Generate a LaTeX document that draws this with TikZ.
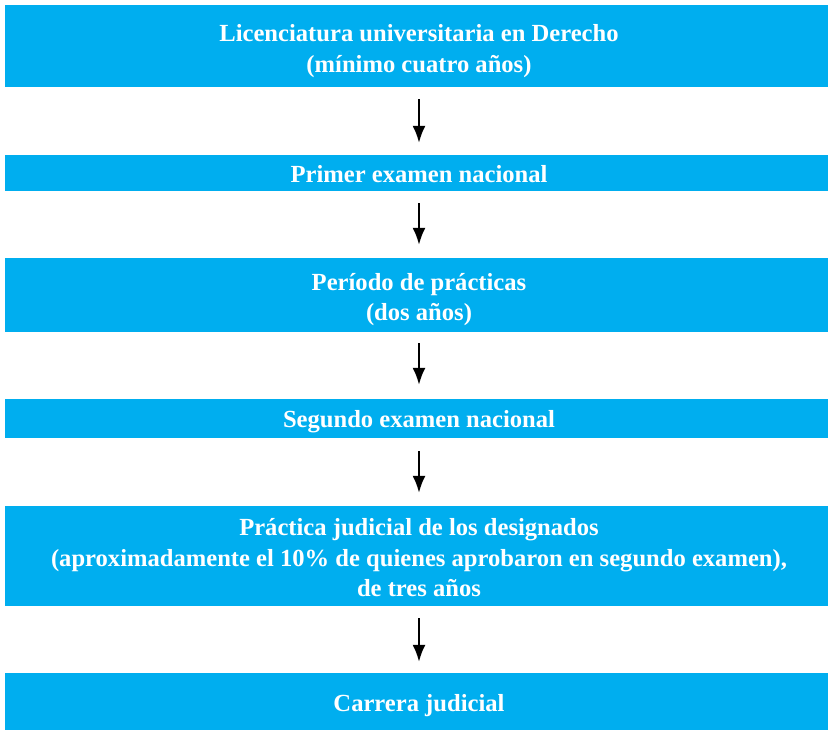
\documentclass[tikz,border=0pt]{standalone}
\usepackage{fontspec}
\setmainfont{Liberation Serif}
\usetikzlibrary{arrows.meta}
\definecolor{boxblue}{HTML}{00AEEF}
\begin{document}
\begin{tikzpicture}[x=1pt,y=1pt,
  stepbox/.style={fill=boxblue, draw=none, minimum width=828pt, inner sep=0pt},
  steptext/.style={text=white, font=\bfseries\fontsize{24.6}{30.5}\selectfont, align=center, inner sep=0pt},
  arr/.style={line width=2pt, -{Latex[length=17pt,width=13pt]}}]
\useasboundingbox (0,0) rectangle (828,729);
\node[stepbox, minimum height=82pt] (b1) at (419,683) {};
\node[stepbox, minimum height=36pt] (b2) at (419,556) {};
\node[stepbox, minimum height=74pt] (b3) at (419,434) {};
\node[stepbox, minimum height=39pt] (b4) at (419,310.5) {};
\node[stepbox, minimum height=100pt] (b5) at (419,173) {};
\node[stepbox, minimum height=60pt] (b6) at (419,26) {};
\node[steptext] (t1) at ([yshift=-5pt]b1.center) {Licenciatura universitaria en Derecho\\(mínimo cuatro años)};
\node[steptext] (t2) at ([yshift=-1pt]b2.center) {Primer examen nacional};
\node[steptext] (t3) at ([yshift=-4.5pt]b3.center) {Período de prácticas\\(dos años)};
\node[steptext] (t4) at ([yshift=-3.5pt]b4.center) {Segundo examen nacional};
\node[steptext] (t5) at ([yshift=-2pt]b5.center) {Práctica judicial de los designados\\(aproximadamente el 10\% de quienes aprobaron en segundo examen),\\de tres años};
\node[steptext] (t6) at ([yshift=-3pt]b6.center) {Carrera judicial};
\draw[arr] ([yshift=-12pt]b1.south) -- ([yshift=12pt]b2.north);
\draw[arr] ([yshift=-12pt]b2.south) -- ([yshift=13pt]b3.north);
\draw[arr] ([yshift=-11pt]b3.south) -- ([yshift=14pt]b4.north);
\draw[arr] ([yshift=-13pt]b4.south) -- ([yshift=13pt]b5.north);
\draw[arr] ([yshift=-12pt]b5.south) -- ([yshift=11pt]b6.north);
\end{tikzpicture}
\end{document}
